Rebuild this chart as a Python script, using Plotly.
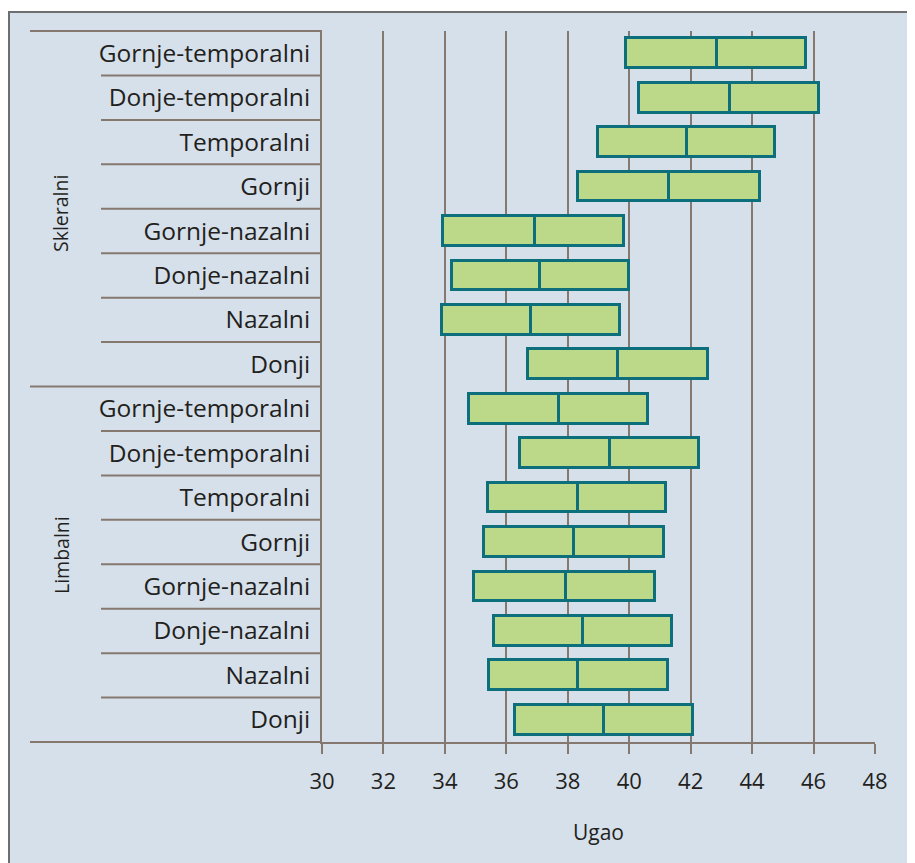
import plotly.graph_objects as go

groups = ["Skleralni", "Limbalni"]
categories = ["Gornje-temporalni", "Donje-temporalni", "Temporalni", "Gornji",
              "Gornje-nazalni", "Donje-nazalni", "Nazalni", "Donji"]
group_of_row = ["Skleralni"] * 8 + ["Limbalni"] * 8
row_labels = categories + categories

q1 = [39.88, 40.31, 38.98, 38.33, 33.94, 34.23, 33.90, 36.72,
      34.80, 36.46, 35.40, 35.26, 34.96, 35.59, 35.45, 36.28]
median = [42.86, 43.29, 41.89, 41.30, 36.94, 37.11, 36.80, 39.63,
          37.71, 39.36, 38.33, 38.20, 37.95, 38.49, 38.33, 39.19]
q3 = [45.77, 46.19, 44.76, 44.27, 39.83, 40.00, 39.71, 42.55,
      40.62, 42.26, 41.20, 41.13, 40.85, 41.39, 41.27, 42.08]

x_ticks = [30, 32, 34, 36, 38, 40, 42, 44, 46, 48]
x_title = "Ugao"

BG = "#d6e0ea"
GRID = "#85786f"
FILL = "#bcd98a"
EDGE = "#0d6f7c"
TXT = "#231f20"
FONT = "Open Sans"

n = len(row_labels)
pos = list(range(n))

OFF = 8  # page body margin
W, H = 915, 863
L = 322 - OFF
T = 31 - OFF
R = W - (875 - OFF)
B = H - (742 - OFF)
pw = W - L - R
ph = H - T - B

def px_x(p):
    # reference screen pixel -> paper x
    return (p - OFF - L) / pw

def px_y(p):
    return (H - B - (p - OFF)) / ph

def row_y(b):
    # paper y of a boundary at row coordinate b (range reversed [n-0.5, -0.5])
    return (n - 0.5 - b) / n

fig = go.Figure()
fig.add_trace(go.Bar(
    y=pos, x=[m - a for a, m in zip(q1, median)], base=q1, orientation="h",
    width=0.67, marker=dict(color=FILL, line=dict(color=EDGE, width=3)),
    hoverinfo="skip", showlegend=False))
fig.add_trace(go.Bar(
    y=pos, x=[b - m for m, b in zip(median, q3)], base=median, orientation="h",
    width=0.67, marker=dict(color=FILL, line=dict(color=EDGE, width=3)),
    hoverinfo="skip", showlegend=False))

shapes = []
# outer frame
shapes.append(dict(type="rect", xref="paper", yref="paper",
                   x0=px_x(9), x1=px_x(940), y0=px_y(900), y1=px_y(12),
                   fillcolor=BG, line=dict(color="#6e6e6e", width=2), layer="below"))
# row separators in label area
for i in range(n + 1):
    b = i - 0.5
    is_group = (i == 0) or (i == n) or (group_of_row[i - 1] != group_of_row[i])
    x0 = px_x(30) if is_group else px_x(101)
    shapes.append(dict(type="line", xref="paper", yref="paper",
                       x0=x0, x1=0, y0=row_y(b), y1=row_y(b),
                       line=dict(color=GRID, width=2)))

annotations = []
group_label_y = {"Skleralni": 214, "Limbalni": 555}
for g in groups:
    annotations.append(dict(text=g, xref="paper", yref="paper", x=px_x(61),
                            y=px_y(group_label_y[g]), xanchor="center", yanchor="middle",
                            textangle=-90, showarrow=False,
                            font=dict(family=FONT, size=19.5, color=TXT)))

fig.update_layout(
    width=W, height=H,
    margin=dict(l=L, r=R, t=T, b=B, pad=0),
    paper_bgcolor="white", plot_bgcolor=BG,
    barmode="overlay", bargap=0,
    shapes=shapes, annotations=annotations,
    font=dict(family=FONT, color=TXT),
    xaxis=dict(range=[30, 48], tickvals=x_ticks, ticktext=[str(v) for v in x_ticks],
               showgrid=True, gridcolor=GRID, gridwidth=2,
               ticks="outside", ticklen=10, tickwidth=2, tickcolor=GRID,
               ticklabelstandoff=9,
               showline=True, linecolor=GRID, linewidth=2, zeroline=False,
               tickfont=dict(family=FONT, size=22, color=TXT)),
    yaxis=dict(range=[n - 0.5, -0.5], tickvals=pos, ticktext=row_labels,
               showgrid=False, zeroline=False,
               showline=True, linecolor=GRID, linewidth=2,
               ticks="", ticklabelstandoff=5,
               tickfont=dict(family=FONT, size=24.5, color=TXT)),
)
fig.update_xaxes(title=dict(text=x_title, font=dict(family=FONT, size=21, color=TXT), standoff=31))

fig.write_html("out.html")
